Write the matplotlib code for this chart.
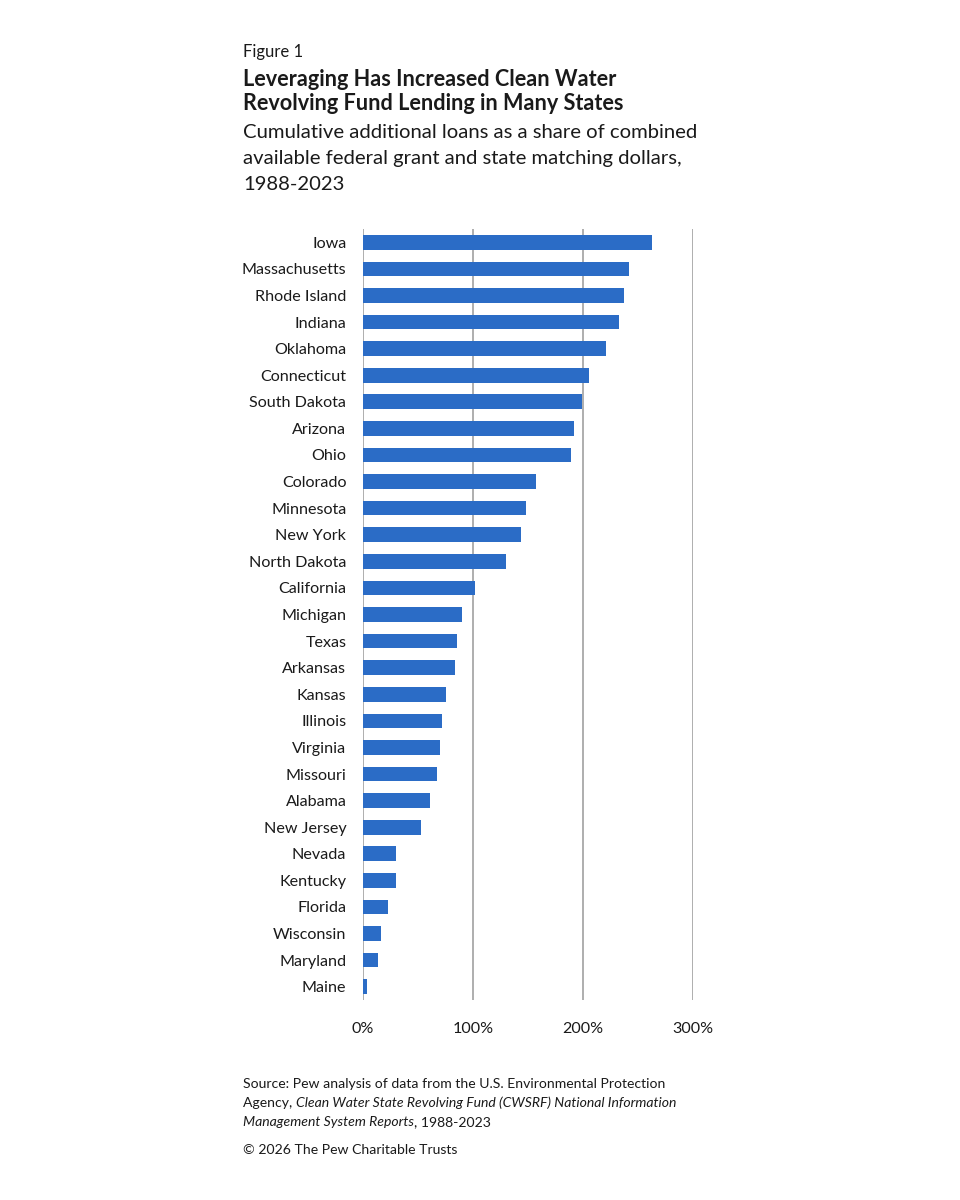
import matplotlib
matplotlib.use("Agg")
import matplotlib.pyplot as plt
from matplotlib.ticker import FuncFormatter

plt.rcParams['font.family'] = ['Lato', 'DejaVu Sans']

states = ["Iowa", "Massachusetts", "Rhode Island", "Indiana", "Oklahoma", "Connecticut",
          "South Dakota", "Arizona", "Ohio", "Colorado", "Minnesota", "New York",
          "North Dakota", "California", "Michigan", "Texas", "Arkansas", "Kansas",
          "Illinois", "Virginia", "Missouri", "Alabama", "New Jersey", "Nevada",
          "Kentucky", "Florida", "Wisconsin", "Maryland", "Maine"]
values = [263, 242, 237, 233, 221, 205, 199, 192, 189, 157, 148, 144, 130, 102,
          90, 85, 84, 75, 72, 70, 67, 61, 53, 30, 30, 23, 16, 14, 4]
xticks = [0, 100, 200, 300]

BAR = "#2b6cc6"
TXT = "#1a1a1a"

fig = plt.figure(figsize=(9.6, 12), dpi=100)
ax = fig.add_axes([363/960, 1 - 1000/1200, 330/960, 771/1200])

ypos = list(range(len(states)))
ax.barh(ypos, values, height=0.55, color=BAR, zorder=3)
ax.set_ylim(len(states) - 0.5, -0.5)
ax.set_xlim(0, 300)
ax.set_yticks(ypos)
ax.set_yticklabels(states, fontsize=11.6, color=TXT)
ax.set_xticks(xticks)
ax.xaxis.set_major_formatter(FuncFormatter(lambda v, p: f"{int(v)}%"))
ax.tick_params(axis='x', labelsize=11.6, colors=TXT, length=0, pad=16)
ax.tick_params(axis='y', length=0, pad=12)
for s in ax.spines.values():
    s.set_visible(False)
ax.grid(axis='x', color='#a8a8a8', linewidth=1.3, zorder=0)
ax.set_axisbelow(True)

# Titles
fig.text(243/960, 1 - 52/1200, "Figure 1", fontsize=12, color=TXT, va='center', ha='left')
fig.text(243/960, 1 - 79/1200, "Leveraging Has Increased Clean Water", fontsize=15.6,
         fontweight='bold', color=TXT, va='center', ha='left')
fig.text(243/960, 1 - 104/1200, "Revolving Fund Lending in Many States", fontsize=15.6,
         fontweight='bold', color=TXT, va='center', ha='left')
sub = ["Cumulative additional loans as a share of combined",
       "available federal grant and state matching dollars,",
       "1988-2023"]
for i, line in enumerate(sub):
    fig.text(243/960, 1 - (133 + 25.5*i)/1200, line, fontsize=14.6, color=TXT,
             va='center', ha='left')

# Source
fs = 10.1
fig.text(243/960, 1 - 1084/1200,
         "Source: Pew analysis of data from the U.S. Environmental Protection",
         fontsize=fs, color=TXT, va='center', ha='left')
t1 = fig.text(243/960, 1 - 1103/1200, "Agency, ", fontsize=fs, color=TXT,
              va='center', ha='left')
ax.annotate("Clean Water State Revolving Fund (CWSRF) National Information",
            xy=(1, 0), xycoords=t1, va='bottom', ha='left', fontsize=fs,
            color=TXT, style='italic', annotation_clip=False)
t2 = fig.text(243/960, 1 - 1122/1200, "Management System Reports", fontsize=fs,
              color=TXT, style='italic', va='center', ha='left')
ax.annotate(", 1988-2023", xy=(1, 0), xycoords=t2, va='bottom', ha='left',
            fontsize=fs, color=TXT, annotation_clip=False)
fig.text(243/960, 1 - 1150/1200, "\u00a9 2026 The Pew Charitable Trusts", fontsize=fs,
         color=TXT, va='center', ha='left')

fig.savefig("out.png", dpi=100, facecolor='white')
